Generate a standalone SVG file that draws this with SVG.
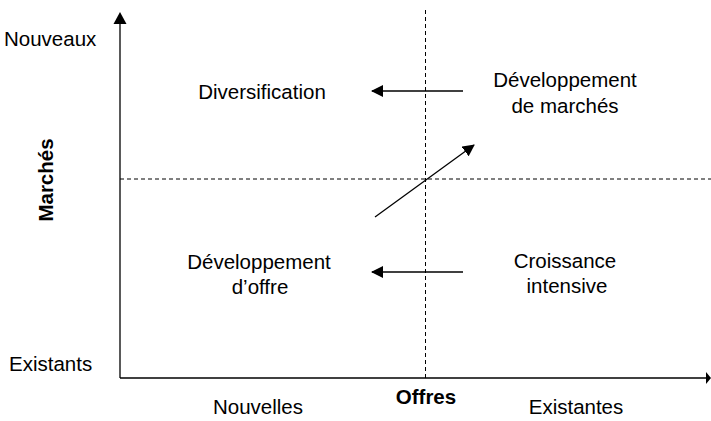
<svg xmlns="http://www.w3.org/2000/svg" width="711" height="421" viewBox="0 0 711 421">
<style>
text{font-family:"Liberation Sans",Arial,Helvetica,sans-serif;font-size:20.5px;fill:#000}
.b{font-weight:bold}
.m{text-anchor:middle}
.ax{stroke:#000;stroke-width:1.3;fill:none}
.d{stroke:#000;stroke-width:1;stroke-dasharray:4,3;fill:none}
.ar{stroke:#000;stroke-width:1.3;fill:none}
</style>
<defs>
<marker id="ah" viewBox="0 0 12 12" refX="11" refY="6" markerWidth="12" markerHeight="12" markerUnits="userSpaceOnUse" orient="auto">
<path d="M0,0 L12,6 L0,12 Z" fill="#000"/>
</marker>
</defs>
<g id="axes">
<line class="ax" x1="120" y1="378" x2="120" y2="24"/>
<path d="M113.5,24 L126.5,24 L120,12 Z" fill="#000"/>
<line class="ax" x1="120" y1="378" x2="706" y2="378"/>
<path d="M706,372 L706,384 L711,378 Z" fill="#000"/>
<line class="d" x1="120" y1="179" x2="711" y2="179"/>
<line class="d" x1="425.5" y1="10" x2="425.5" y2="378"/>
</g>
<g id="labels">
<text x="4" y="46">Nouveaux</text>
<text x="9" y="371">Existants</text>
<text class="b m" transform="translate(53,180) rotate(-90)">Marchés</text>
<text class="b m" x="426" y="404">Offres</text>
<text class="m" x="258" y="414">Nouvelles</text>
<text class="m" x="576" y="414">Existantes</text>
</g>
<g id="n-diversification"><text class="m" x="262" y="99">Diversification</text></g>
<g id="n-dev-marches"><text class="m" x="565" y="87">Développement</text><text class="m" x="565" y="113">de marchés</text></g>
<g id="n-dev-offre"><text class="m" x="259" y="269">Développement</text><text class="m" x="260" y="294">d’offre</text></g>
<g id="n-croissance"><text class="m" x="565" y="268">Croissance</text><text class="m" x="567" y="293">intensive</text></g>
<g id="connectors">
<line class="ar" x1="463" y1="91" x2="372" y2="91" marker-end="url(#ah)"/>
<line class="ar" x1="463" y1="272" x2="372" y2="272" marker-end="url(#ah)"/>
<line class="ar" x1="375" y1="217" x2="474" y2="145" marker-end="url(#ah)"/>
</g>
</svg>
